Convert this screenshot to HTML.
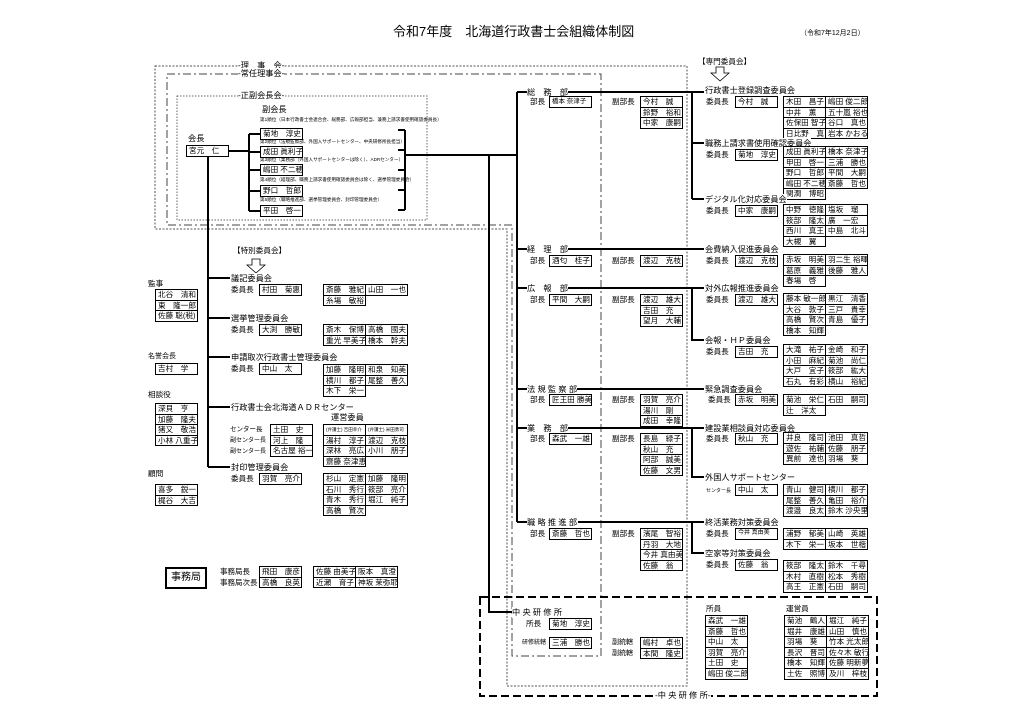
<!DOCTYPE html>
<html><head><meta charset="utf-8"><style>
*{margin:0;padding:0;box-sizing:border-box}
body{width:1024px;height:724px;background:#fff;position:relative;overflow:hidden;font-family:"Liberation Sans","Noto Sans CJK JP",sans-serif;color:#000}
svg{position:absolute;left:0;top:0}
.t{position:absolute;font-size:8.2px;line-height:11px;white-space:nowrap;background:#fff}
.s{position:absolute;font-size:7.6px;line-height:10px;white-space:nowrap}
.n{position:absolute;font-size:4.6px;line-height:6px;white-space:nowrap}
.c{position:absolute;border-left:1px solid #000;border-top:1px solid #000;display:grid;grid-template-columns:42px}
.g{position:absolute;border-left:1px solid #000;border-top:1px solid #000;display:grid;grid-template-columns:42px 42px}
.c div,.g div{height:10.6px;border-right:1px solid #000;border-bottom:1px solid #000;font-size:7.6px;line-height:9.6px;padding-left:2px;white-space:nowrap;overflow:hidden;background:#fff}
.g div.e{border:none;background:transparent}
</style></head><body>
<svg width="1024" height="724" viewBox="0 0 1024 724">
<g fill="none">
<polygon points="155,66 687,66 687,686 507,686 507,229 155,229" stroke="#555" stroke-width="1" stroke-dasharray="2,1.5"/>
<polygon points="167,74 601,74 601,656 512,656 512,225 167,225" stroke="#444" stroke-width="1" stroke-dasharray="8,3,2,3"/>
<rect x="177" y="96" width="250" height="124" stroke="#666" stroke-width="1" stroke-dasharray="1.5,1.5"/>
<rect x="480" y="597" width="397" height="99" stroke="#000" stroke-width="2" stroke-dasharray="8,4"/>
<g stroke="#000" stroke-width="2">
<path d="M228,151H249M249,134V211M249,134H260M249,152H260M249,170H260M249,191H260M249,211H260"/>
<path d="M405,130V210M398,130H405M398,150H405M398,170H405M398,190H405M398,210H405M405,155H517"/>
<path d="M208,157V467M208,278H230M208,318H230M208,357H230M208,407H230M208,467H230"/>
<path d="M489,155V612H512"/>
<path d="M517,92V522M517,92H527M517,249H527M517,288H527M517,389H527M517,428H527M517,522H527"/>
<path d="M566,92H704M566,249H704M566,288H704M574,389H704M566,428H704M578,522H704"/>
<path d="M692,92V199M692,143H704M692,199H704M692,288V340H704M692,428V477H704M692,522V553H704"/>
</g>
<path d="M716,67h8v6h5l-9,8l-9,-8h5z" stroke="#000" stroke-width="0.8" fill="#fff"/>
<path d="M252,259h8v6h5l-9,8l-9,-8h5z" stroke="#000" stroke-width="0.8" fill="#fff"/>
</g>
</svg>

<div class="t" style="left:393px;top:24px;font-size:13px;line-height:16px">令和7年度　北海道行政書士会組織体制図</div>
<div class="t" style="left:800px;top:28px;font-size:7px">（令和7年12月2日）</div>

<div class="t" style="left:238px;top:60px">‐理　事　会‐</div>
<div class="t" style="left:238px;top:68px">‐常任理事会‐</div>
<div class="t" style="left:238px;top:90px">‐正副会長会‐</div>
<div class="t" style="left:262px;top:104px">副会長</div>
<div class="t" style="left:188px;top:133px">会長</div>
<div class="c" style="left:186px;top:145px"><div>宮元　仁</div></div>
<div class="n" style="left:260px;top:117px">第1順位（日本行政書士会連合会、総務部、広報部担当、兼務上請求書使用確認委員長）</div>
<div class="c" style="left:260px;top:128px"><div>菊地　淳史</div></div>
<div class="n" style="left:260px;top:139px">第2順位（法規監察部、外国人サポートセンター、中央研修所長担当）</div>
<div class="c" style="left:260px;top:146px"><div>成田 眞利子</div></div>
<div class="n" style="left:260px;top:157px">第3順位（業務部（外国人サポートセンターは除く）、ADRセンター）</div>
<div class="c" style="left:260px;top:164px"><div>嶋田 不二穂</div></div>
<div class="n" style="left:260px;top:177px">第4順位（経理部、職務上請求書使用確認委員会は除く、選挙管理委員会）</div>
<div class="c" style="left:260px;top:185px"><div>野口　哲郎</div></div>
<div class="n" style="left:260px;top:197px">第5順位（職略推進部、選挙管理委員会、封印管理委員会）</div>
<div class="c" style="left:260px;top:205px"><div>平田　啓一</div></div>

<div class="s" style="left:233px;top:246px">【特別委員会】</div>
<div class="t" style="left:231px;top:273px">議記委員会</div>
<div class="s" style="left:231px;top:285px">委員長</div>
<div class="c" style="left:259px;top:284px"><div>村田　菊惠</div></div>
<div class="g" style="left:323px;top:284px"><div>斎藤　雅紀</div><div>山田　一也</div><div>糸場　敏裕</div><div class="e"></div></div>
<div class="t" style="left:231px;top:313px">選挙管理委員会</div>
<div class="s" style="left:231px;top:325px">委員長</div>
<div class="c" style="left:259px;top:324px"><div>大渕　勝敏</div></div>
<div class="g" style="left:323px;top:324px"><div>斎木　保博</div><div>高橋　國夫</div><div>重光 早美子</div><div>橋本　幹夫</div></div>
<div class="t" style="left:231px;top:352px">申請取次行政書士管理委員会</div>
<div class="s" style="left:231px;top:364px">委員長</div>
<div class="c" style="left:259px;top:363px"><div>中山　太</div></div>
<div class="g" style="left:323px;top:364px"><div>加藤　隆明</div><div>和泉　知美</div><div>横川　都子</div><div>尾整　善久</div><div>木下　栄一</div><div class="e"></div></div>
<div class="t" style="left:231px;top:402px">行政書士会北海道ＡＤＲセンター</div>
<div class="t" style="left:331px;top:412px">運営委員</div>
<div class="s" style="left:230px;top:425px;font-size:6.5px">センター長</div>
<div class="s" style="left:230px;top:436px;font-size:6px">副センター長</div>
<div class="s" style="left:230px;top:447px;font-size:6px">副センター長</div>
<div class="c" style="left:270px;top:424px"><div>土田　史</div><div>河上　隆</div><div>名古屋 裕一</div></div>
<div class="g" style="left:323px;top:424px"><div style="font-size:4.5px">(弁護士) 吉田幸介</div><div style="font-size:4.5px">(弁護士) 米田勇司</div><div>湯村　淳子</div><div>渡辺　克枝</div><div>深林　亮広</div><div>小川　朋子</div><div>齋藤 奈津恵</div><div class="e"></div></div>
<div class="t" style="left:231px;top:462px">封印管理委員会</div>
<div class="s" style="left:231px;top:474px">委員長</div>
<div class="c" style="left:259px;top:473px"><div>羽賀　亮介</div></div>
<div class="g" style="left:323px;top:473px"><div>杉山　定憲</div><div>加藤　隆明</div><div>石川　秀行</div><div>筱部　亮介</div><div>青木　秀行</div><div>堀江　純子</div><div>高橋　賢次</div><div class="e"></div></div>

<div class="s" style="left:148px;top:279px">監事</div>
<div class="c" style="left:155px;top:289px"><div>北谷　清和</div><div>東　隆一郎</div><div>佐藤 聡(税)</div></div>
<div class="s" style="left:148px;top:352px;font-size:7px">名誉会長</div>
<div class="c" style="left:155px;top:363px"><div>吉村　学</div></div>
<div class="s" style="left:148px;top:390px">相談役</div>
<div class="c" style="left:155px;top:403px"><div>深貝　亨</div><div>加藤　隆夫</div><div>猪又　敬浩</div><div>小林 八重子</div></div>
<div class="s" style="left:148px;top:469px">顧問</div>
<div class="c" style="left:155px;top:484px"><div>喜多　鋭一</div><div>梶谷　大吉</div></div>

<div style="position:absolute;left:165px;top:567px;width:42px;height:22px;border:2px solid #000;font-size:10px;line-height:18px;text-align:center">事務局</div>
<div class="s" style="left:220px;top:567px;font-size:7.5px">事務局長</div>
<div class="s" style="left:220px;top:578px;font-size:7.5px">事務局次長</div>
<div class="c" style="left:259px;top:566px"><div>飛田　康彦</div><div>高橋　良英</div></div>
<div class="g" style="left:313px;top:566px"><div>佐藤 由美子</div><div>阪本　真澄</div><div>近瀬　育子</div><div>神坂 茉弥耶</div></div>

<div class="t" style="left:527px;top:87px">総　務　部</div>
<div class="s" style="left:530px;top:97px">部長</div>
<div class="c" style="left:549px;top:96px"><div style="font-size:6.5px">橋本 奈津子</div></div>
<div class="s" style="left:612px;top:97px">副部長</div>
<div class="c" style="left:640px;top:96px"><div>今村　誠</div><div>鈴野　裕和</div><div>中家　康嗣</div></div>

<div class="t" style="left:527px;top:244px">経　理　部</div>
<div class="s" style="left:530px;top:256px">部長</div>
<div class="c" style="left:549px;top:255px"><div>酒匂　桂子</div></div>
<div class="s" style="left:612px;top:256px">副部長</div>
<div class="c" style="left:640px;top:255px"><div>渡辺　克枝</div></div>

<div class="t" style="left:527px;top:283px">広　報　部</div>
<div class="s" style="left:530px;top:295px">部長</div>
<div class="c" style="left:549px;top:294px"><div>平間　大嗣</div></div>
<div class="s" style="left:612px;top:295px">副部長</div>
<div class="c" style="left:640px;top:294px"><div>渡辺　雄大</div><div>吉田　充</div><div>望月　大輔</div></div>

<div class="t" style="left:527px;top:384px">法 規 監 察 部</div>
<div class="s" style="left:530px;top:395px">部長</div>
<div class="c" style="left:549px;top:394px"><div>匠王田 勝美</div></div>
<div class="s" style="left:612px;top:395px">副部長</div>
<div class="c" style="left:640px;top:394px"><div>羽賀　亮介</div><div>湯川　剛</div><div>成田　幸隆</div></div>

<div class="t" style="left:527px;top:423px">業　務　部</div>
<div class="s" style="left:530px;top:434px">部長</div>
<div class="c" style="left:549px;top:433px"><div>森武　一雄</div></div>
<div class="s" style="left:612px;top:434px">副部長</div>
<div class="c" style="left:640px;top:433px"><div>長島　緑子</div><div>秋山　充</div><div>阿部　誠美</div><div>佐藤　文男</div></div>

<div class="t" style="left:527px;top:517px">職 略 推 進 部</div>
<div class="s" style="left:530px;top:529px">部長</div>
<div class="c" style="left:549px;top:528px"><div>斎藤　哲也</div></div>
<div class="s" style="left:612px;top:529px">副部長</div>
<div class="c" style="left:640px;top:528px"><div>濱尾　智裕</div><div>丹羽　大地</div><div>今井 真由美</div><div>佐藤　翁</div></div>

<div class="t" style="left:512px;top:607px">中 央 研 修 所</div>
<div class="s" style="left:526px;top:619px">所長</div>
<div class="c" style="left:549px;top:618px"><div>菊地　淳史</div></div>
<div class="s" style="left:522px;top:638px;font-size:6px">研修統轄</div>
<div class="c" style="left:549px;top:637px"><div>三浦　勝也</div></div>
<div class="s" style="left:612px;top:638px;font-size:7px">副統轄</div>
<div class="s" style="left:612px;top:649px;font-size:7px">副統轄</div>
<div class="c" style="left:640px;top:637px"><div>嶋村　卓也</div><div>本間　隆史</div></div>

<div class="s" style="left:698px;top:57px">【専門委員会】</div>
<div class="t" style="left:705px;top:85px">行政書士登録調査委員会</div>
<div class="s" style="left:706px;top:97px">委員長</div>
<div class="c" style="left:735px;top:96px"><div>今村　誠</div></div>
<div class="g" style="left:783px;top:96px"><div>木田　昌子</div><div>嶋田 俊二郎</div><div>中井　薫</div><div>五十嵐 裕也</div><div>佐保田 智子</div><div>谷口　真也</div><div>日比野　真</div><div>岩本 かおる</div></div>

<div class="t" style="left:705px;top:138px">職務上請求書使用確認委員会</div>
<div class="s" style="left:706px;top:150px">委員長</div>
<div class="c" style="left:735px;top:149px"><div>菊地　淳史</div></div>
<div class="g" style="left:783px;top:146px"><div>成田 眞利子</div><div>橋本 奈津子</div><div>甲田　啓一</div><div>三浦　勝也</div><div>野口　哲郎</div><div>平間　大嗣</div><div>嶋田 不二穂</div><div>斎藤　哲也</div><div>関澗　博昭</div><div class="e"></div></div>

<div class="t" style="left:705px;top:194px">デジタル化対応委員会</div>
<div class="s" style="left:706px;top:206px">委員長</div>
<div class="c" style="left:735px;top:205px"><div>中家　康嗣</div></div>
<div class="g" style="left:783px;top:204px"><div>中野　徳隆</div><div>塩坂　瑠</div><div>筱部　隆太</div><div>廣　一宏</div><div>西川　真王</div><div>中島　北斗</div><div>大槻　翼</div><div class="e"></div></div>

<div class="t" style="left:705px;top:244px">会費納入促進委員会</div>
<div class="s" style="left:706px;top:256px">委員長</div>
<div class="c" style="left:735px;top:255px"><div>渡辺　克枝</div></div>
<div class="g" style="left:783px;top:254px"><div>赤坂　明美</div><div>羽二生 裕暉</div><div>葛原　義雅</div><div>後藤　雅人</div><div>春場　啓</div><div class="e"></div></div>

<div class="t" style="left:705px;top:283px">対外広報推進委員会</div>
<div class="s" style="left:706px;top:295px">委員長</div>
<div class="c" style="left:735px;top:294px"><div>渡辺　雄大</div></div>
<div class="g" style="left:783px;top:293px"><div>藤本 敏一郎</div><div>黒江　清香</div><div>大谷　敦子</div><div>三戸　貴幸</div><div>高橋　賢次</div><div>青島　優子</div><div>橋本　知輝</div><div class="e"></div></div>

<div class="t" style="left:705px;top:335px">会報・ＨＰ委員会</div>
<div class="s" style="left:706px;top:347px">委員長</div>
<div class="c" style="left:735px;top:346px"><div>吉田　充</div></div>
<div class="g" style="left:783px;top:344px"><div>大滝　祐子</div><div>金崎　和子</div><div>小田　麻紀</div><div>菊池　尚仁</div><div>大戸　宜子</div><div>筱部　紘大</div><div>石丸　有彩</div><div>横山　裕紀</div></div>

<div class="t" style="left:705px;top:384px">緊急調査委員会</div>
<div class="s" style="left:708px;top:395px">委員長</div>
<div class="c" style="left:735px;top:394px"><div>赤坂　明美</div></div>
<div class="g" style="left:783px;top:394px"><div>菊池　栄仁</div><div>石田　嗣司</div><div>辻　洋太</div><div class="e"></div></div>

<div class="t" style="left:705px;top:423px">建設業相談員対応委員会</div>
<div class="s" style="left:706px;top:434px">委員長</div>
<div class="c" style="left:735px;top:433px"><div>秋山　充</div></div>
<div class="g" style="left:783px;top:432px"><div>井良　隆司</div><div>池田　真哲</div><div>遊佐　祐輔</div><div>佐藤　朋子</div><div>異前　達也</div><div>羽場　葵</div></div>

<div class="t" style="left:705px;top:472px">外国人サポートセンター</div>
<div class="s" style="left:706px;top:486px;font-size:5px">センター長</div>
<div class="c" style="left:735px;top:484px"><div>中山　太</div></div>
<div class="g" style="left:783px;top:484px"><div>青山　健司</div><div>横川　都子</div><div>尾整　善久</div><div>亀田　裕介</div><div>渡邉　良太</div><div>鈴木 沙央里</div></div>

<div class="t" style="left:705px;top:517px">終活業務対策委員会</div>
<div class="s" style="left:706px;top:529px">委員長</div>
<div class="c" style="left:735px;top:528px"><div style="font-size:6px">今井 真由美</div></div>
<div class="g" style="left:783px;top:528px"><div>浦野　郁美</div><div>山崎　英雄</div><div>木下　栄一</div><div>坂本　世楷</div></div>

<div class="t" style="left:705px;top:548px">空家等対策委員会</div>
<div class="s" style="left:706px;top:560px">委員長</div>
<div class="c" style="left:735px;top:559px"><div>佐藤　翁</div></div>
<div class="g" style="left:783px;top:560px"><div>筱部　隆太</div><div>鈴木　千尋</div><div>木村　直樹</div><div>松本　秀樹</div><div>高王　正憲</div><div>石田　嗣司</div></div>

<div class="s" style="left:706px;top:604px">所員</div>
<div class="c" style="left:705px;top:615px"><div>森武　一雄</div><div>斎藤　哲也</div><div>中山　太</div><div>羽賀　亮介</div><div>土田　史</div><div>嶋田 俊二郎</div></div>
<div class="s" style="left:786px;top:604px">運営員</div>
<div class="g" style="left:784px;top:615px"><div>菊池　鶴人</div><div>堀江　純子</div><div>堀井　康雄</div><div>山田　慎也</div><div>羽場　葵</div><div>竹本 光太郎</div><div>長沢　晋司</div><div>佐々木 敏行</div><div>橋本　知輝</div><div>佐藤 明新夢</div><div>土佐　照博</div><div>及川　梓枝</div></div>

<div class="t" style="left:655px;top:690px">‐中 央 研 修 所‐</div>
</body></html>
